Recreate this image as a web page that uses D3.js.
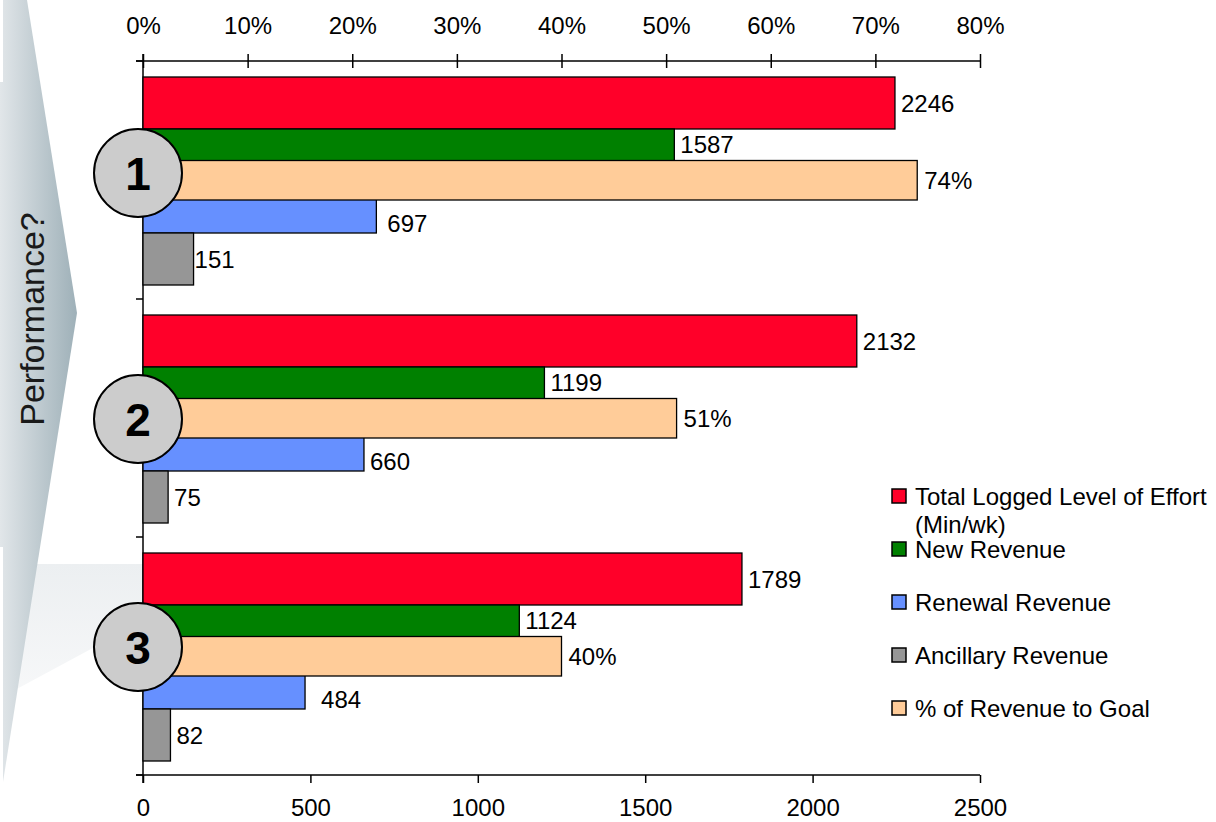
<!DOCTYPE html>
<html>
<head>
<meta charset="utf-8">
<script src="https://cdn.jsdelivr.net/npm/d3@7"></script>
<style>
  html, body { margin: 0; padding: 0; background: #ffffff; }
  svg { display: block; font-family: "Liberation Sans", Arial, sans-serif; }
</style>
</head>
<body>
<svg id="chart" width="1216" height="822"></svg>
<script>
// ---------- data ----------
const groups = ["1", "2", "3"];
const effort = [2246, 2132, 1789];        // Total Logged Level of Effort (Min/wk)
const newRevenue = [1587, 1199, 1124];
const renewalRevenue = [697, 660, 484];
const ancillaryRevenue = [151, 75, 82];
const pctToGoal = [0.74, 0.51, 0.40];      // secondary (top) axis
const bottomTicks = [0, 500, 1000, 1500, 2000, 2500];
const topTicks = [0, 0.1, 0.2, 0.3, 0.4, 0.5, 0.6, 0.7, 0.8];
const sideTitle = "Performance?";
const legendItems = [
  { key: "effort", lines: ["Total Logged Level of Effort", "(Min/wk)"] },
  { key: "newRevenue", lines: ["New Revenue"] },
  { key: "renewalRevenue", lines: ["Renewal Revenue"] },
  { key: "ancillaryRevenue", lines: ["Ancillary Revenue"] },
  { key: "pctToGoal", lines: ["% of Revenue to Goal"] }
];

// ---------- styles ----------
const colors = {
  effort: "#ff0029",
  newRevenue: "#008000",
  renewalRevenue: "#6690ff",
  ancillaryRevenue: "#969696",
  pctToGoal: "#ffcc99"
};
const primaryKeys = ["effort", "newRevenue", "renewalRevenue", "ancillaryRevenue"];
const primaryValues = { effort, newRevenue, renewalRevenue, ancillaryRevenue };

const svg = d3.select("#chart");
const defs = svg.append("defs");

// ---------- background decoration ----------
const grad = defs.append("linearGradient").attr("id", "chev").attr("x1", "0").attr("x2", "1").attr("y1", "0").attr("y2", "0");
grad.append("stop").attr("offset", "0%").attr("stop-color", "#e1e6e9");
grad.append("stop").attr("offset", "100%").attr("stop-color", "#9eb0b8");
const bandGrad = defs.append("linearGradient").attr("id", "band").attr("x1", "0").attr("x2", "0").attr("y1", "0").attr("y2", "1");
bandGrad.append("stop").attr("offset", "0%").attr("stop-color", "#eceff1");
bandGrad.append("stop").attr("offset", "100%").attr("stop-color", "#f7f8f9");

svg.append("path").attr("d", "M0,564 L143,564 L143,621 L0,698 Z").attr("fill", "url(#band)");
svg.append("path").attr("d", "M0,0 L27,0 L77,313 L3,782 L0,782 Z").attr("fill", "url(#chev)");
svg.append("rect").attr("x", 0).attr("y", 0).attr("width", 3).attr("height", 82).attr("fill", "#fff");
svg.append("rect").attr("x", 0).attr("y", 547).attr("width", 3).attr("height", 236).attr("fill", "#fff");

svg.append("text")
  .attr("transform", "translate(44,319) rotate(-90)")
  .attr("text-anchor", "middle")
  .attr("font-size", 34)
  .attr("fill", "#1a1a1a")
  .text(sideTitle);

// ---------- scales ----------
const x = d3.scaleLinear().domain([0, 2500]).range([143, 980]);
const x2 = d3.scaleLinear().domain([0, 0.8]).range([143, 980]);
const y = d3.scaleBand().domain(groups).range([61, 775]);
const yInner = d3.scaleBand().domain(primaryKeys).range([16, 224]);
const yPct = d3.scaleBand().domain(["pct"]).range([99.5, 139]);

// ---------- axes ----------
const topAxis = d3.axisTop(x2).tickValues(topTicks).tickFormat(d3.format(".0%")).tickSize(7).tickSizeOuter(0).tickPadding(20);
const gTop = svg.append("g").attr("transform", "translate(0,61)").call(topAxis);
gTop.selectAll(".tick line").attr("y2", 7).attr("y1", -7);
const bottomAxis = d3.axisBottom(x).tickValues(bottomTicks).tickFormat(d3.format("d")).tickSize(8).tickSizeOuter(0).tickPadding(16);
const gBot = svg.append("g").attr("transform", "translate(0,775)").call(bottomAxis);
[gTop, gBot].forEach(g => {
  g.select(".domain").attr("stroke", "#000").attr("stroke-width", 1.5);
  g.selectAll(".tick line").attr("stroke", "#000").attr("stroke-width", 1.5);
  g.selectAll(".tick text").attr("font-size", 24).attr("fill", "#000").attr("font-family", "Liberation Sans, Arial, sans-serif");
});
// extend axis lines to the left tick position
gTop.select(".domain").attr("d", `M${x(0) - 7},0H${x(2500)}`);
gBot.select(".domain").attr("d", `M${x(0) - 7},0H${x(2500)}`);

// category axis (left)
const catEdges = [y.range()[0]].concat(groups.map(g => y(g) + y.bandwidth()));
svg.append("line").attr("x1", x(0)).attr("x2", x(0)).attr("y1", 54).attr("y2", 783).attr("stroke", "#000").attr("stroke-width", 1.5);
svg.selectAll(".cattick").data(catEdges).join("line")
  .attr("x1", x(0) - 7).attr("x2", x(0)).attr("y1", d => d).attr("y2", d => d)
  .attr("stroke", "#000").attr("stroke-width", 1.5);

// ---------- bars ----------
const barData = [];
groups.forEach((g, i) => {
  primaryKeys.forEach(k => barData.push({ g, i, key: k, value: primaryValues[k][i] }));
});
svg.append("g").selectAll("rect").data(barData).join("rect")
  .attr("x", x(0))
  .attr("y", d => y(d.g) + yInner(d.key))
  .attr("width", d => x(d.value) - x(0))
  .attr("height", yInner.bandwidth())
  .attr("fill", d => colors[d.key])
  .attr("stroke", "#000").attr("stroke-width", 1.3);

const pctData = groups.map((g, i) => ({ g, i, key: "pctToGoal", value: pctToGoal[i] }));
svg.append("g").selectAll("rect").data(pctData).join("rect")
  .attr("x", x2(0))
  .attr("y", d => y(d.g) + yPct("pct"))
  .attr("width", d => x2(d.value) - x2(0))
  .attr("height", yPct.bandwidth())
  .attr("fill", colors.pctToGoal)
  .attr("stroke", "#000").attr("stroke-width", 1.3);

// ---------- data labels ----------
const labelNudge = { renewalRevenue: [5, 0, 10], ancillaryRevenue: [-5, 0, 0] };
function labelY(d) {
  const top = y(d.g) + yInner(d.key);
  const bw = yInner.bandwidth();
  if (d.key === "newRevenue") return (top + y(d.g) + yPct("pct")) / 2;
  if (d.key === "renewalRevenue") return top + bw - 10;
  return top + bw / 2;
}
const labels = svg.append("g").attr("font-size", 24).attr("fill", "#000");
labels.selectAll("text.p").data(barData).join("text")
  .attr("x", d => x(d.value) + 6 + ((labelNudge[d.key] || [0, 0, 0])[d.i]))
  .attr("y", d => labelY(d))
  .attr("dy", "0.36em")
  .text(d => d.value);
labels.selectAll("text.s").data(pctData).join("text")
  .attr("x", d => x2(d.value) + 7)
  .attr("y", d => y(d.g) + yPct("pct") + yPct.bandwidth() / 2)
  .attr("dy", "0.36em")
  .text(d => d3.format(".0%")(d.value));

// ---------- numbered badges ----------
const badgeShift = [-7, 1, -9];
const badges = svg.append("g").selectAll("g").data(groups).join("g")
  .attr("transform", (g, i) => `translate(${x(0) - 5},${y(g) + y.bandwidth() / 2 + badgeShift[i]})`);
badges.append("circle").attr("r", 44).attr("fill", "#cccccc").attr("stroke", "#000").attr("stroke-width", 2);
badges.append("text").attr("text-anchor", "middle").attr("dy", "0.36em")
  .attr("font-size", 46).attr("font-weight", "bold").attr("fill", "#000").text(g => g);

// ---------- legend ----------
const legend = svg.append("g").attr("transform", "translate(892,505)");
const li = legend.selectAll("g").data(legendItems).join("g")
  .attr("transform", (d, i) => `translate(0,${i * 53})`);
li.append("rect").attr("x", 0).attr("y", -16).attr("width", 14).attr("height", 14)
  .attr("fill", d => colors[d.key]).attr("stroke", "#000").attr("stroke-width", 1.5);
li.append("text").attr("x", 23).attr("font-size", 24).attr("fill", "#000")
  .selectAll("tspan").data(d => d.lines).join("tspan")
  .attr("x", 23).attr("dy", (d, j) => j === 0 ? 0 : 28).text(d => d);
</script>
</body>
</html>
